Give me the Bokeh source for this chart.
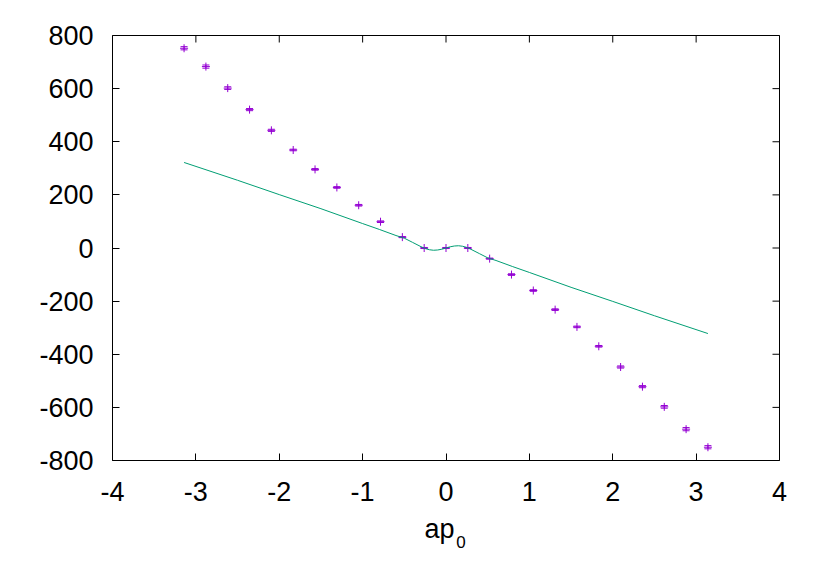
import math
from bokeh.plotting import figure
from bokeh.models import (ColumnDataSource, FixedTicker, Range1d, LinearAxis,
                          Whisker, TeeHead)
from bokeh.embed import file_html
from bokeh.resources import INLINE

# data points (x = ap_0, y with error)
px = [-3.1416, -2.8798, -2.6180, -2.3562, -2.0944, -1.8326, -1.5708, -1.3090,
      -1.0472, -0.7854, -0.5236, -0.2618, 0.0, 0.2618, 0.5236, 0.7854, 1.0472,
      1.3090, 1.5708, 1.8326, 2.0944, 2.3562, 2.6180, 2.8798, 3.1416]
py = [752, 683, 602, 521, 443, 369, 296, 228, 161, 99, 41, 0, 0, 0, -40, -100,
      -160, -232, -297, -370, -448, -522, -598, -682, -750]
perr = [6, 6, 5, 4, 4, 3, 3, 3, 3, 3, 2, 2, 2, 2, 2, 3, 3, 3, 3, 3, 4, 4, 5, 6, 6]

# model curve
lx = [-3.1416, -2.5, -2.0, -1.5, -1.0, -0.8, -0.6, -0.5, -0.4, -0.3, -0.25,
      -0.2, -0.15, -0.1, -0.05, 0.0, 0.05, 0.1, 0.15, 0.2, 0.25, 0.3, 0.4, 0.5,
      0.6, 0.8, 1.0, 1.5, 2.0, 2.5, 3.1416]
ly = [322, 255, 201, 148, 92, 70, 47, 37, 21, 5, -2, -6.5, -8.5, -7.5, -4.5, 0,
      4.5, 7.5, 8.5, 6.5, 2, -5, -21, -37, -47, -70, -92, -148, -201, -255, -322]

xticks = [-4, -3, -2, -1, 0, 1, 2, 3, 4]
yticks = [-800, -600, -400, -200, 0, 200, 400, 600, 800]
xlabels = {t: str(t) for t in xticks}
ylabels = {t: str(t) for t in yticks}

# x-axis title "ap" with subscript "0"
xtitle = "ap"
xtitle_sub = "0"
xtitle_pos = -0.078
xtitle_sub_pos = 0.18

FONT = "Liberation Sans"
PURPLE = "#9400d3"
GREEN = "#009e73"

p = figure(width=814, height=565, frame_width=667, frame_height=425,
           x_range=Range1d(-4, 4), y_range=Range1d(-800, 800),
           output_backend="svg", toolbar_location=None,
           min_border_left=112, min_border_right=35, min_border_top=35,
           min_border_bottom=0)
p.grid.visible = False
p.outline_line_color = "black"
p.outline_line_width = 1
p.background_fill_color = "white"
p.border_fill_color = "white"

for ax in (p.xaxis[0], p.yaxis[0]):
    ax.axis_line_color = None
    ax.major_tick_in = 7
    ax.major_tick_out = 0
    ax.minor_tick_line_color = None
    ax.major_tick_line_color = "black"
    ax.major_label_text_font = FONT
    ax.major_label_text_font_size = "27px"
    ax.major_label_text_color = "black"

p.xaxis[0].ticker = FixedTicker(ticks=xticks)
p.yaxis[0].ticker = FixedTicker(ticks=yticks)
p.xaxis[0].major_label_overrides = xlabels
p.yaxis[0].major_label_overrides = ylabels
p.xaxis[0].major_label_standoff = 21
p.yaxis[0].major_label_standoff = 19

# axis title placed as labels of two helper axes below the main x axis
title_ax = LinearAxis(ticker=FixedTicker(ticks=[xtitle_pos]),
                      major_label_overrides={xtitle_pos: xtitle},
                      axis_line_color=None, major_tick_line_color=None,
                      minor_tick_line_color=None, major_tick_in=0,
                      major_tick_out=0, major_label_standoff=10,
                      major_label_text_font=FONT,
                      major_label_text_font_size="27px",
                      major_label_text_color="black")
sub_ax = LinearAxis(ticker=FixedTicker(ticks=[xtitle_sub_pos]),
                    major_label_overrides={xtitle_sub_pos: xtitle_sub},
                    axis_line_color=None, major_tick_line_color=None,
                    minor_tick_line_color=None, major_tick_in=0,
                    major_tick_out=0, major_label_standoff=-11,
                    major_label_text_font=FONT,
                    major_label_text_font_size="17px",
                    major_label_text_color="black")
p.add_layout(title_ax, "below")
p.add_layout(sub_ax, "below")

# mirrored inward ticks on top and right borders (half of each dash is clipped)
p.scatter(x=xticks, y=[800] * len(xticks), marker="dash", size=14,
          angle=math.pi / 2, line_color="black", line_width=1)
p.scatter(x=[4] * len(yticks), y=yticks, marker="dash", size=14,
          line_color="black", line_width=1)

src = ColumnDataSource(dict(x=px, y=py, lo=[a - b for a, b in zip(py, perr)],
                            hi=[a + b for a, b in zip(py, perr)]))
p.add_layout(Whisker(source=src, base="x", lower="lo", upper="hi",
                     line_color=PURPLE, line_width=1,
                     upper_head=TeeHead(size=7, line_color=PURPLE, line_width=1),
                     lower_head=TeeHead(size=7, line_color=PURPLE, line_width=1)))
p.scatter("x", "y", source=src, marker="cross", size=8, line_color=PURPLE,
          line_width=1)

p.line(lx, ly, line_color=GREEN, line_width=1)

open("out.html", "w").write(file_html(p, INLINE))
